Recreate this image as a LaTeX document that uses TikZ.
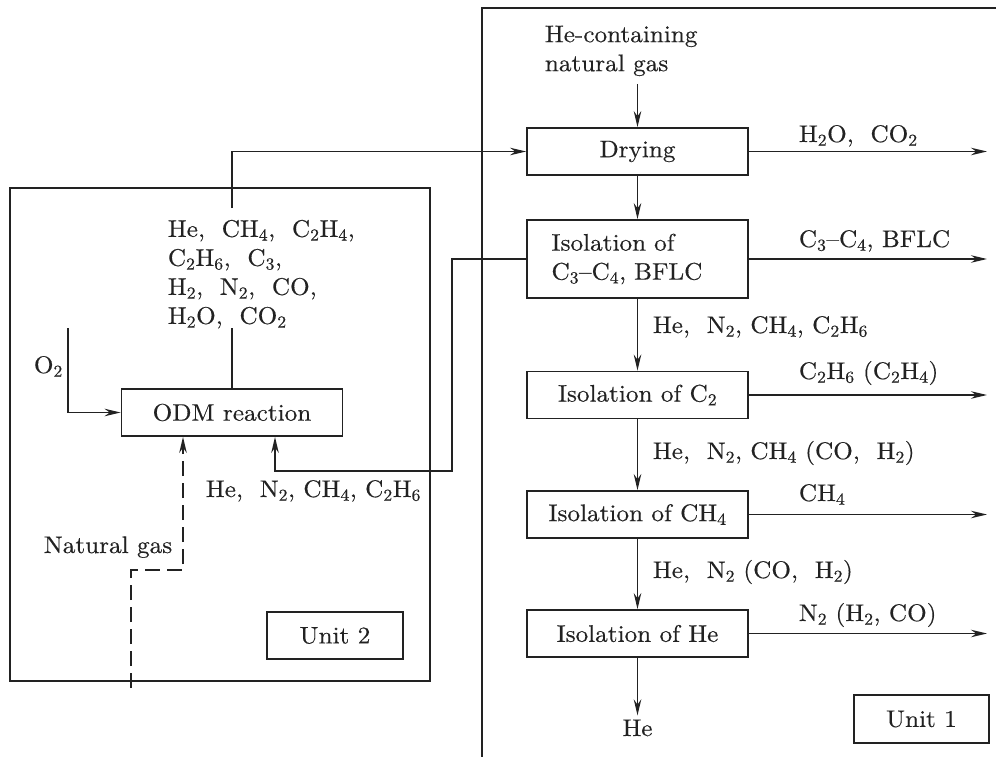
\documentclass[tikz,border=0pt]{standalone}
\usepackage{fontspec}
\setmainfont{lmroman10-regular.otf}[FakeStretch=1.05, FakeBold=0.4]
\usetikzlibrary{arrows.meta}
\definecolor{ink}{HTML}{222222}
\newcommand{\sbs}[1]{\textsubscript{#1}}
\begin{document}
\begin{tikzpicture}[x=1pt,y=-1pt, line width=1.8pt, draw=ink, text=ink,
  font=\fontsize{24}{29}\selectfont,
  box/.style={draw, minimum width=221pt, minimum height=47pt, inner sep=0pt},
  arr/.style={-{Stealth[length=16pt,width=7.5pt]}},
  lbl/.style={anchor=base west, inner sep=0pt},
  ngline/.style={dash pattern=on 15pt off 7pt}]
\useasboundingbox (0,0) rectangle (996,757);

% frames
\draw (10,188) rectangle (430,681);
\draw (996,8) -- (482,8) -- (482,757);

% Unit 1 column
\node[align=left, anchor=south west, inner sep=0pt] (hein) at (544,77) {He-containing\\natural gas};
\node[box] (dry) at (637.5,151.5) {Drying};
\node[box, minimum height=78pt, text width=172pt, align=left] (iso3) at (637.5,259) {Isolation of\\C\sbs{3}--C\sbs{4}, BFLC};
\node[box] (c2) at (637.5,395) {Isolation of C\sbs{2}};
\node[box] (ch4) at (637.5,514.5) {Isolation of CH\sbs{4}};
\node[box] (he) at (637.5,633.5) {Isolation of He};
\node[anchor=base] (heout) at (637.5,736) {He};
\node[box, minimum width=135pt, minimum height=48pt] (u1) at (921.5,719) {Unit 1};

\draw[arr] ([yshift=-7pt]hein.south -| dry.north) -- (dry.north);
\draw[arr] (dry.south) -- (iso3.north);
\draw[arr] (iso3.south) -- (c2.north);
\draw[arr] (c2.south) -- (ch4.north);
\draw[arr] (ch4.south) -- (he.north);
\draw[arr] (he.south) -- (heout.north);

\coordinate (e1) at (987,151.5);
\coordinate (e2) at (987,259);
\coordinate (e3) at (987,395);
\coordinate (e4) at (987,514.5);
\coordinate (e5) at (987,633.5);
\draw[arr] (dry.east) -- (e1);
\draw[arr] (iso3.east) -- (e2);
\draw[arr] (c2.east) -- (e3);
\draw[arr] (ch4.east) -- (e4);
\draw[arr] (he.east) -- (e5);

\node[lbl] (o1) at (798,142) {H\sbs{2}O,\ \ CO\sbs{2}};
\node[lbl] (o2l) at (798,247) {C\sbs{3}--C\sbs{4}, BFLC};
\node[lbl] (o3) at (798,379) {C\sbs{2}H\sbs{6} (C\sbs{2}H\sbs{4})};
\node[lbl] (o4) at (798,501) {CH\sbs{4}};
\node[lbl] (o5) at (798,621) {N\sbs{2} (H\sbs{2}, CO)};

\node[lbl] (d1) at (652,333) {He,\ \ N\sbs{2}, CH\sbs{4},\ C\sbs{2}H\sbs{6}};
\node[lbl] (d2) at (652,459) {He,\ \ N\sbs{2}, CH\sbs{4} (CO,\ \ H\sbs{2})};
\node[lbl] (d3) at (652,578) {He,\ \ N\sbs{2} (CO,\ \ H\sbs{2})};

% Unit 2
\node[box] (odm) at (232,412.5) {ODM reaction};
\node[box, minimum width=136pt] (u2) at (335,635.5) {Unit 2};
\node[align=left, anchor=north west, inner sep=0pt] (mix) at (167,219)
  {He,\ \ CH\sbs{4},\ \ C\sbs{2}H\sbs{4},\\C\sbs{2}H\sbs{6},\ \ C\sbs{3},\\H\sbs{2},\ \ N\sbs{2},\ \ CO,\\H\sbs{2}O,\ \ CO\sbs{2}};
\node[lbl] (o2in) at (33,373) {O\sbs{2}};
\node[lbl] (rl) at (205,497) {He,\ \ N\sbs{2}, CH\sbs{4},\ C\sbs{2}H\sbs{6}};
\node[lbl] (ngl) at (43,553) {Natural gas};

\coordinate (m1) at (232,328);
\coordinate (m2) at (232,208);
\draw (odm.north) -- (m1);
\draw[arr] (m2) |- (dry.west);

\coordinate (oo) at (68,328);
\draw[arr] (oo) |- (odm.west);

\coordinate (r1) at (452,471);
\draw[arr] (iso3.west) -| (r1) -| ([xshift=43pt]odm.south);

\coordinate (n0) at (131,688);
\coordinate (n1) at (183,570);
\draw[arr, ngline] (n0) |- (n1) -- ([xshift=-49pt]odm.south);
\end{tikzpicture}
\end{document}
